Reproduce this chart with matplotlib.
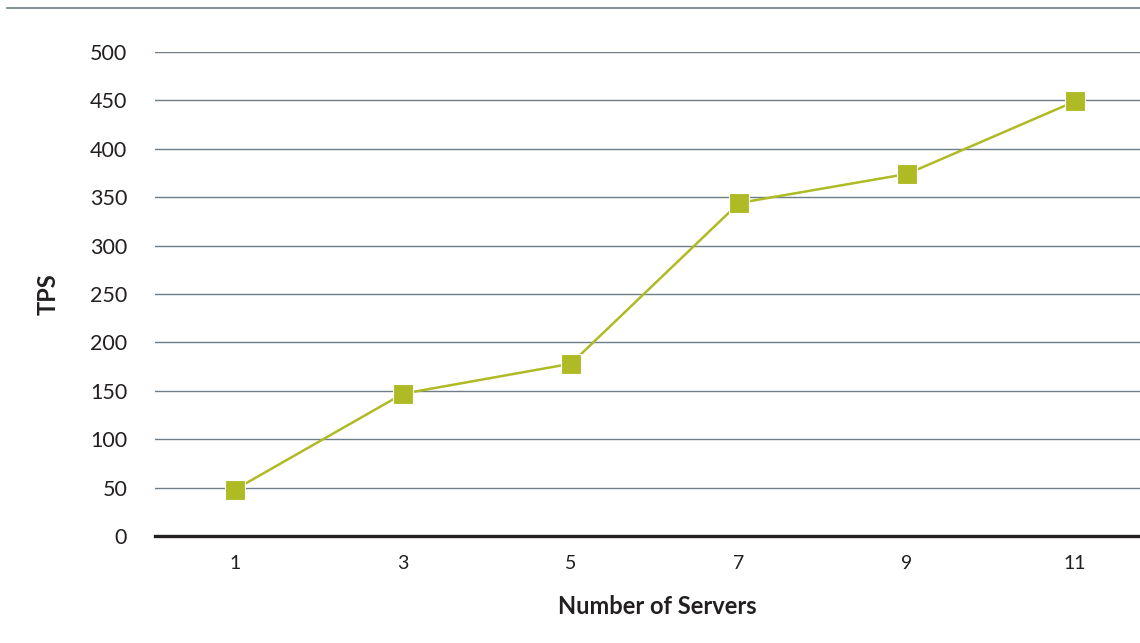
import matplotlib.pyplot as plt
from matplotlib.lines import Line2D

# Data
servers = ['1', '3', '5', '7', '9', '11']
tps = [48, 147, 178, 344, 374, 449]
y_ticks = [0, 50, 100, 150, 200, 250, 300, 350, 400, 450, 500]

green = '#AEBB25'
grid_color = '#6E7D86'

plt.rcParams['font.family'] = ['Lato', 'DejaVu Sans']

fig = plt.figure(figsize=(11.4, 6.43), dpi=100)
ax = fig.add_axes([155 / 1140, (643 - 536) / 643, (1140 - 155) / 1140, (536 - 52) / 643])

x = list(range(len(servers)))
ax.plot(x, tps, color=green, linewidth=1.8, marker='s', markersize=15,
        markerfacecolor=green, markeredgecolor='white', markeredgewidth=0.8, zorder=3)

ax.set_xlim(-0.476, 5.387)
ax.set_ylim(0, 500)
ax.set_yticks(y_ticks)
ax.set_xticks(x)
ax.set_xticklabels(servers)

ax.grid(axis='y', color=grid_color, linewidth=1.0)
ax.set_axisbelow(True)
for side in ['top', 'right', 'left']:
    ax.spines[side].set_visible(False)
ax.spines['bottom'].set_color('#231F20')
ax.spines['bottom'].set_linewidth(2.4)
ax.spines['bottom'].set_zorder(4)

ax.tick_params(axis='y', length=0, pad=20, labelsize=15.5, labelcolor='#231F20')
ax.tick_params(axis='x', length=0, pad=14, labelsize=14, labelcolor='#231F20')

ax.set_ylabel('TPS', fontsize=17, fontweight='bold', labelpad=22, color='#231F20')
ax.set_xlabel('Number of Servers', fontsize=17, fontweight='bold', color='#231F20')
ax.xaxis.set_label_coords(0.51, -0.122)

# decorative rule across the top
fig.add_artist(Line2D([7 / 1140, 1.0], [1 - 8 / 643, 1 - 8 / 643],
                      color=grid_color, linewidth=1.2, transform=fig.transFigure))

fig.savefig('out.png', dpi=100)
